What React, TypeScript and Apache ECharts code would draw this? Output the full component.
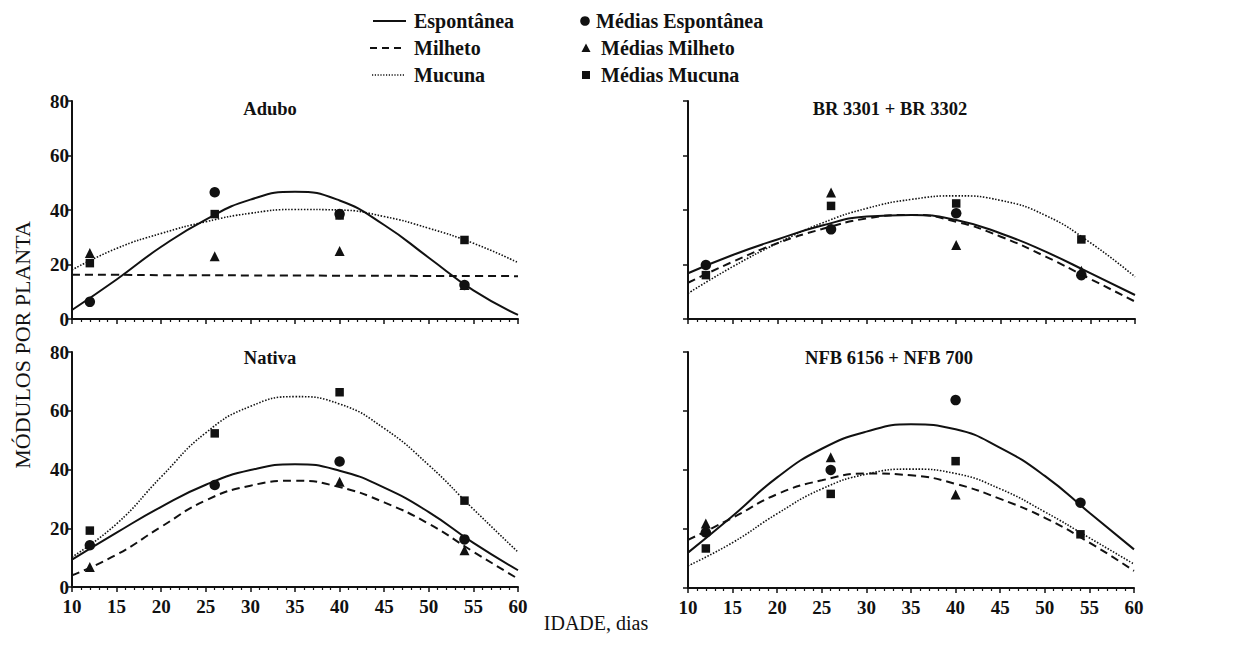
import React, { useEffect, useRef } from "react";
import * as echarts from "echarts";

// ---- data ----
const curveDays = [10, 15, 20, 25, 30, 35, 40, 45, 50, 55, 60];
const sampleDays = [12, 26, 40, 54];
const panelTitles = ["Adubo", "BR 3301 + BR 3302", "Nativa", "NFB 6156 + NFB 700"];
const treatmentNames = ["Espontânea", "Milheto", "Mucuna"];
const meanNames = ["Médias Espontânea", "Médias Milheto", "Médias Mucuna"];

// fitted curves (read at curveDays)
const aduboEspCurve = [3.3, 14.5, 26.5, 36.5, 43.8, 46.7, 43.5, 34.5, 22.5, 10.5, 1.5];
const aduboMilCurve = [16.2, 16.2, 16.1, 16.1, 16.0, 16.0, 15.9, 15.9, 15.8, 15.8, 15.7];
const aduboMucCurve = [18, 25.9, 31.4, 35.7, 38.8, 40.2, 40, 37.6, 33.3, 27.8, 20.7];

const brEspCurve = [16.8, 23.5, 29.2, 34.3, 37.6, 38.2, 36.3, 31.4, 24.7, 16.8, 8.8];
const brMilCurve = [13.3, 21, 27.8, 33, 36.9, 38.2, 35.7, 30.2, 22.9, 14.7, 6.4];
const brMucCurve = [9.4, 19.2, 27.8, 35.2, 40.6, 43.9, 45.2, 43.5, 38, 28, 15.5];

const nativaEspCurve = [9.3, 18.5, 27.3, 34.8, 39.8, 41.8, 39.6, 33.8, 25.5, 15, 5.7];
const nativaMilCurve = [4, 11, 20.5, 29.5, 34.5, 36.2, 34, 28.8, 21.5, 12, 2.8];
const nativaMucCurve = [10.2, 21.5, 37.5, 52.5, 61.5, 64.8, 62.3, 54, 41.5, 26.5, 11.9];

const nfbEspCurve = [12, 24.4, 37.5, 47.2, 53, 55.5, 53.8, 47.5, 38, 25.5, 13.1];
const nfbMilCurve = [16.3, 23.8, 31.8, 36.5, 38.8, 38.2, 35.3, 30.2, 23.8, 15.4, 5.8];
const nfbMucCurve = [7.5, 15.4, 25.2, 33.6, 38.6, 40.3, 38.8, 33.6, 25.8, 17, 8.1];

// observed means (read at sampleDays; null = not visible)
const aduboEspMeans = [6.3, 46.5, 38.5, 12.5];
const aduboMilMeans = [24.2, 23, 25, 12.5];
const aduboMucMeans = [20.5, 38.5, 38, 29];

const brEspMeans = [19.8, 32.9, 38.8, 16.1];
const brMilMeans = [null, 46.4, 27.2, 17.7];
const brMucMeans = [16.1, 41.5, 42.4, 29.2];

const nativaEspMeans = [14.2, 34.7, 42.7, 16.2];
const nativaMilMeans = [6.8, null, 35.8, 12.5];
const nativaMucMeans = [19.2, 52.3, 66.3, 29.4];

const nfbEspMeans = [18.8, 40, 63.7, 28.9];
const nfbMilMeans = [21.9, 44.3, 31.7, null];
const nfbMucMeans = [13.4, 31.9, 43, 18.2];

const panelCurves = [
  [aduboEspCurve, aduboMilCurve, aduboMucCurve],
  [brEspCurve, brMilCurve, brMucCurve],
  [nativaEspCurve, nativaMilCurve, nativaMucCurve],
  [nfbEspCurve, nfbMilCurve, nfbMucCurve],
];
const panelMeans = [
  [aduboEspMeans, aduboMilMeans, aduboMucMeans],
  [brEspMeans, brMilMeans, brMucMeans],
  [nativaEspMeans, nativaMilMeans, nativaMucMeans],
  [nfbEspMeans, nfbMilMeans, nfbMucMeans],
];

// ---- styling ----
const FONT = "Liberation Serif";
const INK = "#111";
const lineDashes: any[] = ["solid", [8, 5], [1.5, 1.6]];
const lineWidths = [2, 2, 1.6];
const meanSymbols = ["circle", "triangle", "rect"];
const meanSizes = [10.5, 10, 8.5];

const grids = [
  { left: 72, top: 101, width: 446, height: 218 },
  { left: 688, top: 101, width: 447, height: 218 },
  { left: 72, top: 352, width: 446, height: 235 },
  { left: 688, top: 352, width: 446, height: 236 },
];
const titlePos = [
  [270, 109],
  [890, 109],
  [270, 358],
  [889, 358],
];

export default function App() {
  const ref = useRef<HTMLDivElement>(null);
  useEffect(() => {
    if (!ref.current) return;
    const chart = echarts.init(ref.current, undefined, { renderer: "svg" });

    const xAxis = grids.map((_, i) => ({
      type: "value",
      gridIndex: i,
      min: 10,
      max: 60,
      interval: 5,
      axisLine: { show: true, onZero: false, lineStyle: { color: INK, width: 2 } },
      axisTick: { show: true, length: 5, lineStyle: { color: INK, width: 1.5 } },
      minorTick: { show: true, splitNumber: 5, length: 3, lineStyle: { color: INK, width: 1.2 } },
      splitLine: { show: false },
      axisLabel: { show: i >= 2, color: INK, fontFamily: FONT, fontWeight: "bold", fontSize: 19, margin: 10 },
    }));
    const yAxis = grids.map((_, i) => ({
      type: "value",
      gridIndex: i,
      min: 0,
      max: 80,
      interval: 20,
      axisLine: { show: true, onZero: false, lineStyle: { color: INK, width: 2 } },
      axisTick: { show: true, length: 5, lineStyle: { color: INK, width: 1.5 } },
      splitLine: { show: false },
      axisLabel: { show: i % 2 === 0, color: INK, fontFamily: FONT, fontWeight: "bold", fontSize: 19, margin: 3 },
    }));

    const series: any[] = [];
    panelCurves.forEach((curves, p) => {
      curves.forEach((curve, t) => {
        series.push({
          type: "line",
          name: treatmentNames[t],
          xAxisIndex: p,
          yAxisIndex: p,
          smooth: 0.5,
          showSymbol: false,
          silent: true,
          lineStyle: { color: INK, width: lineWidths[t], type: lineDashes[t] },
          data: curveDays.map((d, j) => [d, curve[j]]),
        });
      });
    });
    panelMeans.forEach((means, p) => {
      means.forEach((vals, t) => {
        series.push({
          type: "scatter",
          name: meanNames[t],
          xAxisIndex: p,
          yAxisIndex: p,
          symbol: meanSymbols[t],
          symbolSize: meanSizes[t],
          itemStyle: { color: INK, opacity: 1 },
          data: sampleDays.map((d, j) => (vals[j] == null ? null : [d, vals[j]])).filter((v) => v != null),
        });
      });
    });

    const text = (t: string, x: number, y: number, size: number, bold: boolean, align = "left", extra: any = {}) => ({
      type: "text",
      x,
      y,
      ...extra,
      style: {
        text: t,
        fill: INK,
        font: `${bold ? "bold" : "normal"} ${size}px ${FONT}`,
        textAlign: align,
        textVerticalAlign: "middle",
      },
    });

    const graphic: any[] = [
      // legend lines
      { type: "line", shape: { x1: 373, y1: 21, x2: 406, y2: 21 }, style: { stroke: INK, lineWidth: 2 } },
      { type: "line", shape: { x1: 370, y1: 48, x2: 404, y2: 48 }, style: { stroke: INK, lineWidth: 2, lineDash: [7, 5] } },
      { type: "line", shape: { x1: 372, y1: 75, x2: 404, y2: 75 }, style: { stroke: INK, lineWidth: 1.5, lineDash: [1.2, 1.6] } },
      text(treatmentNames[0], 414, 21, 20, true),
      text(treatmentNames[1], 414, 48, 20, true),
      text(treatmentNames[2], 414, 75, 20, true),
      // legend markers
      { type: "circle", shape: { cx: 585, cy: 21, r: 4.8 }, style: { fill: INK } },
      { type: "polygon", shape: { points: [[586, 43.5], [581.5, 52], [590.5, 52]] }, style: { fill: INK } },
      { type: "rect", shape: { x: 582, y: 71, width: 8, height: 8 }, style: { fill: INK } },
      text(meanNames[0], 596, 21, 20, true),
      text(meanNames[1], 601, 48, 20, true),
      text(meanNames[2], 601, 75, 20, true),
      // panel titles
      ...panelTitles.map((t, i) => text(t, titlePos[i][0], titlePos[i][1], 18.5, true, "center")),
      // axis titles
      text("IDADE, dias", 596, 623, 20, false, "center"),
      text("MÓDULOS POR PLANTA", 22, 345, 22, false, "center", { rotation: Math.PI / 2 }),
    ];

    chart.setOption({
      animation: false,
      backgroundColor: "#ffffff",
      grid: grids.map((g) => ({ ...g, containLabel: false })),
      xAxis,
      yAxis,
      series,
      graphic,
    });
    return () => chart.dispose();
  }, []);

  return <div ref={ref} style={{ position: "fixed", left: 0, top: 0, width: 1238, height: 653, background: "#fff" }} />;
}
